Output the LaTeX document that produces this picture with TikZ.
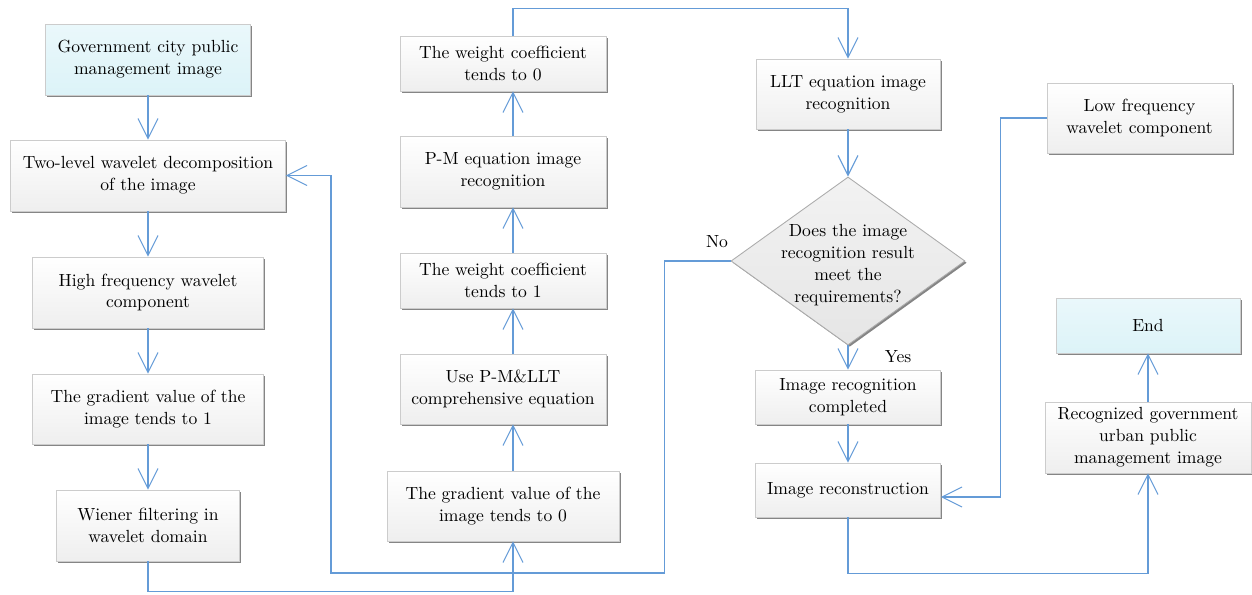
\documentclass[tikz,border=0pt]{standalone}
\usetikzlibrary{arrows.meta,shapes.geometric,shadows}
\definecolor{flowblue}{RGB}{100,155,215}
\definecolor{termcyan}{RGB}{220,243,248}
\tikzset{
  flow/.style={draw=flowblue, line width=0.6pt, -{Straight Barb[length=4mm,width=4mm]}},
  procbox/.style={draw=gray!40, top color=white, bottom color=gray!13, line width=0.4pt,
    align=center, inner sep=1pt, font=\fontsize{10}{12.5}\selectfont,
    drop shadow={shadow xshift=0.35mm, shadow yshift=-0.35mm, fill=black!60, opacity=0.8}},
  termbox/.style={procbox, top color=termcyan!60, bottom color=termcyan},
  decision/.style={diamond, draw=gray!65, top color=gray!10, bottom color=gray!20,
    minimum width=46.8mm, minimum height=33.6mm, inner sep=0pt, line width=0.5pt,
    drop shadow={shadow xshift=0.35mm, shadow yshift=-0.35mm, fill=black!60, opacity=0.8}},
  tag/.style={font=\fontsize{10}{12.5}\selectfont}
}
\begin{document}
\begin{tikzpicture}
    \useasboundingbox (0mm,0mm) rectangle (250.4mm,-118.8mm);

    \node[termbox, minimum width=41mm, minimum height=14.2mm] (start) at (29.6mm,-11.9mm)
        {Government city public\\ management image};
    \node[procbox, minimum width=55mm, minimum height=14.2mm] (twolevel) at (29.6mm,-35.1mm)
        {Two-level wavelet decomposition\\ of the image};
    \node[procbox, minimum width=46.2mm, minimum height=14.2mm] (high) at (29.6mm,-58.5mm)
        {High frequency wavelet\\ component};
    \node[procbox, minimum width=46.2mm, minimum height=14mm] (grad1) at (29.6mm,-81.8mm)
        {The gradient value of the\\ image tends to 1};
    \node[procbox, minimum width=36.6mm, minimum height=14.2mm] (wiener) at (29.6mm,-105.1mm)
        {Wiener filtering in\\ wavelet domain};

    \coordinate (midline) at (102.6mm,0mm);
    \node[procbox, minimum width=41.2mm, minimum height=11mm] (weight0) at (100.6mm,-12.7mm)
        {The weight coefficient\\ tends to 0};
    \node[procbox, minimum width=41.2mm, minimum height=14.2mm] (pm) at (100.6mm,-34.3mm)
        {P-M equation image\\ recognition};
    \node[procbox, minimum width=41.2mm, minimum height=11mm] (weight1) at (100.6mm,-56.1mm)
        {The weight coefficient\\ tends to 1};
    \node[procbox, minimum width=41.2mm, minimum height=14mm] (usepm) at (100.6mm,-77.8mm)
        {Use P-M\&LLT\\ comprehensive equation};
    \node[procbox, minimum width=46.4mm, minimum height=14mm] (grad0) at (100.6mm,-101.2mm)
        {The gradient value of the\\ image tends to 0};

    \node[procbox, minimum width=36.8mm, minimum height=14mm] (llt) at (169.6mm,-18.8mm)
        {LLT equation image\\ recognition};
    \node[decision, label={[tag, align=center, yshift=-0.8mm]center:{Does the image\\ recognition result\\ meet the\\ requirements?}}]
        (check) at (169.6mm,-52.2mm) {};
    \node[procbox, minimum width=37mm, minimum height=10.8mm] (done) at (169.6mm,-79.4mm)
        {Image recognition\\ completed};
    \node[procbox, minimum width=37mm, minimum height=10.8mm] (recon) at (169.6mm,-98mm)
        {Image reconstruction};

    \node[procbox, minimum width=37mm, minimum height=14mm] (low) at (227.9mm,-23.6mm)
        {Low frequency\\ wavelet component};
    \node[termbox, minimum width=36.8mm, minimum height=11mm] (end) at (229.6mm,-65.1mm)
        {End};
    \node[procbox, minimum width=41.2mm, minimum height=14.2mm] (recog) at (229.6mm,-87.5mm)
        {Recognized government\\ urban public\\ management image};

    \node[tag] (nolabel) at (143.4mm,-48.4mm) {No};
    \node[tag] (yeslabel) at (179.6mm,-71.4mm) {Yes};

    \foreach \a/\b in {start/twolevel, twolevel/high, high/grad1, grad1/wiener,
                       llt/check, check/done, done/recon, recog/end}
    {   \draw[flow] (\a) -- (\b);
    }
    \foreach \a/\b in {grad0/usepm, usepm/weight1, weight1/pm, pm/weight0}
    {   \draw[flow] (\a.north -| midline) -- (\b.south -| midline);
    }

    \coordinate (noturn) at (66.2mm,-114.6mm);
    \draw[flow] (wiener.south) -- ++(0mm,-6mm) -| (grad0.south -| midline);
    \draw[flow] (weight0.north -| midline) -- ++(0mm,5.4mm) -| (llt.north);
    \draw[flow] (check.west) -- ++(-13.2mm,0mm) |- (noturn) |- (twolevel.east);
    \draw[flow] (low.west) -- ++(-9.2mm,0mm) |- ([yshift=-1.4mm]recon.east);
    \draw[flow] (recon.south) -- ++(0mm,-11.2mm) -| (recog.south);
\end{tikzpicture}
\end{document}
